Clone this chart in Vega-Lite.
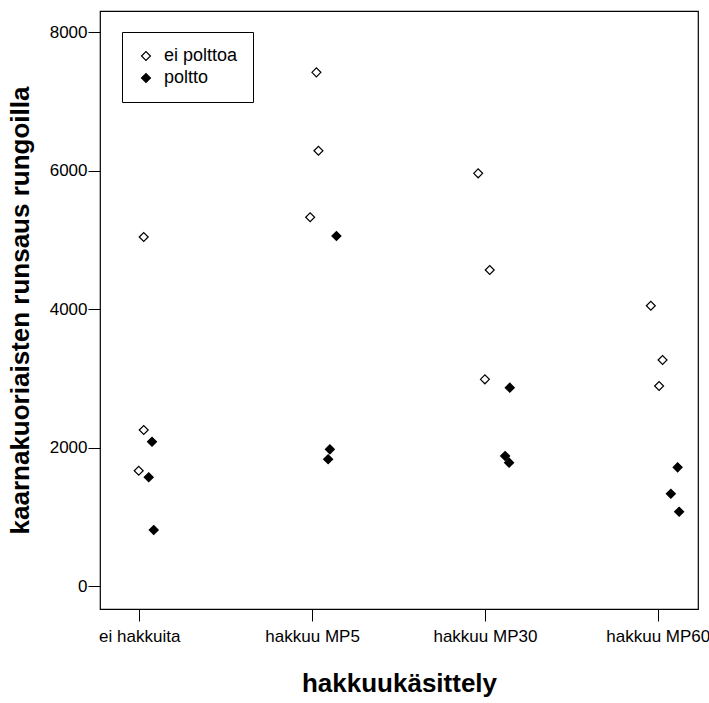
{
  "$schema": "https://vega.github.io/schema/vega-lite/v6.json",
  "autosize": "none",
  "width": 598,
  "height": 598,
  "padding": {"left": 100, "top": 11, "right": 11, "bottom": 94},
  "background": "white",
  "data": {
    "values": [
      {"treatment": "ei hakkuita", "burn": "ei polttoa", "jitter": 0.023, "abundance": 5044},
      {"treatment": "ei hakkuita", "burn": "ei polttoa", "jitter": 0.023, "abundance": 2257},
      {"treatment": "ei hakkuita", "burn": "ei polttoa", "jitter": -0.006, "abundance": 1669},
      {"treatment": "ei hakkuita", "burn": "poltto", "jitter": 0.071, "abundance": 2088},
      {"treatment": "ei hakkuita", "burn": "poltto", "jitter": 0.052, "abundance": 1574},
      {"treatment": "ei hakkuita", "burn": "poltto", "jitter": 0.081, "abundance": 813},
      {"treatment": "hakkuu MP5", "burn": "ei polttoa", "jitter": 0.022, "abundance": 7422},
      {"treatment": "hakkuu MP5", "burn": "ei polttoa", "jitter": 0.034, "abundance": 6290},
      {"treatment": "hakkuu MP5", "burn": "ei polttoa", "jitter": -0.014, "abundance": 5329},
      {"treatment": "hakkuu MP5", "burn": "poltto", "jitter": 0.138, "abundance": 5058},
      {"treatment": "hakkuu MP5", "burn": "poltto", "jitter": 0.100, "abundance": 1978},
      {"treatment": "hakkuu MP5", "burn": "poltto", "jitter": 0.090, "abundance": 1834},
      {"treatment": "hakkuu MP30", "burn": "ei polttoa", "jitter": -0.042, "abundance": 5964},
      {"treatment": "hakkuu MP30", "burn": "ei polttoa", "jitter": 0.025, "abundance": 4567},
      {"treatment": "hakkuu MP30", "burn": "ei polttoa", "jitter": -0.003, "abundance": 2989},
      {"treatment": "hakkuu MP30", "burn": "poltto", "jitter": 0.141, "abundance": 2868},
      {"treatment": "hakkuu MP30", "burn": "poltto", "jitter": 0.114, "abundance": 1882},
      {"treatment": "hakkuu MP30", "burn": "poltto", "jitter": 0.137, "abundance": 1785},
      {"treatment": "hakkuu MP60", "burn": "ei polttoa", "jitter": -0.043, "abundance": 4052},
      {"treatment": "hakkuu MP60", "burn": "ei polttoa", "jitter": 0.025, "abundance": 3268},
      {"treatment": "hakkuu MP60", "burn": "ei polttoa", "jitter": 0.005, "abundance": 2892},
      {"treatment": "hakkuu MP60", "burn": "poltto", "jitter": 0.112, "abundance": 1718},
      {"treatment": "hakkuu MP60", "burn": "poltto", "jitter": 0.073, "abundance": 1337},
      {"treatment": "hakkuu MP60", "burn": "poltto", "jitter": 0.121, "abundance": 1077}
    ]
  },
  "mark": {"type": "point", "shape": "diamond", "filled": true, "stroke": "black", "strokeWidth": 1.2, "size": 80, "opacity": 1},
  "encoding": {
    "x": {
      "field": "treatment",
      "type": "nominal",
      "sort": ["ei hakkuita", "hakkuu MP5", "hakkuu MP30", "hakkuu MP60"],
      "scale": {"type": "band", "paddingInner": 0.54, "paddingOuter": 0},
      "axis": {
        "title": "hakkuukäsittely",
        "labelAngle": 0,
        "domain": false,
        "grid": false,
        "tickColor": "black",
        "tickSize": 12,
        "labelPadding": 7,
        "labelFontSize": 17,
        "labelColor": "black",
        "titleFontSize": 26,
        "titleFontWeight": "bold",
        "titleColor": "black",
        "titlePadding": 26
      }
    },
    "xOffset": {
      "field": "jitter",
      "type": "quantitative",
      "scale": {"domain": [-0.23, 0.23], "nice": false, "zero": false}
    },
    "y": {
      "field": "abundance",
      "type": "quantitative",
      "scale": {"domain": [-328, 8308], "nice": false, "zero": false},
      "axis": {
        "title": "kaarnakuoriaisten runsaus rungoilla",
        "values": [0, 2000, 4000, 6000, 8000],
        "format": "d",
        "domain": false,
        "grid": false,
        "tickColor": "black",
        "tickSize": 12,
        "labelPadding": 1,
        "labelFontSize": 17,
        "labelColor": "black",
        "titleFontSize": 26,
        "titleFontWeight": "bold",
        "titleColor": "black",
        "titlePadding": 16
      }
    },
    "fill": {
      "field": "burn",
      "type": "nominal",
      "scale": {"domain": ["ei polttoa", "poltto"], "range": ["white", "black"]},
      "legend": {
        "title": null,
        "orient": "none",
        "legendX": 22,
        "legendY": 21,
        "strokeColor": "black",
        "fillColor": "white",
        "padding": 15,
        "labelFontSize": 18,
        "labelColor": "black",
        "labelOffset": 9,
        "rowPadding": 4,
        "symbolType": "diamond",
        "symbolSize": 80,
        "symbolStrokeColor": "black",
        "symbolStrokeWidth": 1.2,
        "symbolOpacity": 1
      }
    }
  },
  "config": {
    "font": "Liberation Sans",
    "view": {"stroke": "black", "strokeWidth": 1.2}
  }
}
